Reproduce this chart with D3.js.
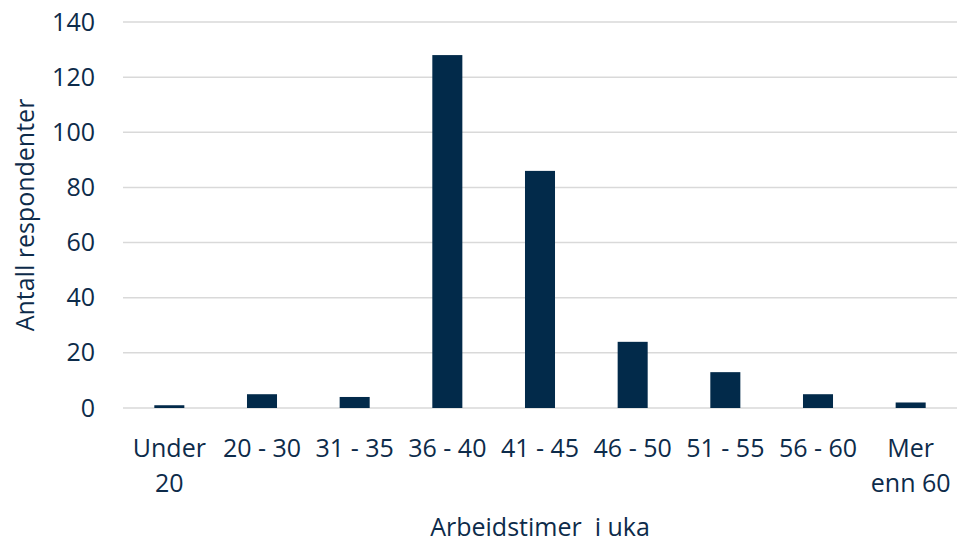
<!DOCTYPE html>
<html>
<head>
<meta charset="utf-8">
<script src="https://cdn.jsdelivr.net/npm/d3@7"></script>
<style>
  body { margin: 0; background: #fff; }
  text { font-family: "Open Sans", sans-serif; fill: #0d2b4a; }
</style>
</head>
<body>
<script>
// Data
var categories = ["Under\n20", "20 - 30", "31 - 35", "36 - 40", "41 - 45", "46 - 50", "51 - 55", "56 - 60", "Mer\nenn 60"];
var values = [1, 5, 4, 128, 86, 24, 13, 5, 2];
var yTicks = [0, 20, 40, 60, 80, 100, 120, 140];
var xTitle = "Arbeidstimer \u00a0i uka";
var yTitle = "Antall respondenter";

var W = 957, H = 542;
var margin = {left: 123, right: 0, top: 22, bottom: 134};
var width = W - margin.left - margin.right,
    height = H - margin.top - margin.bottom;
var fontSize = "25px";

var svg = d3.select("body").append("svg")
    .attr("width", W)
    .attr("height", H);

var g = svg.append("g")
    .attr("transform", "translate(" + margin.left + "," + margin.top + ")");

var x = d3.scaleBand()
    .domain(categories)
    .range([0, width])
    .paddingInner(0.676)
    .paddingOuter(0.338);

var y = d3.scaleLinear()
    .domain([0, 140])
    .range([height, 0]);

// gridlines
g.selectAll(".grid")
    .data(yTicks)
    .join("line")
    .attr("class", "grid")
    .attr("x1", 0)
    .attr("x2", width)
    .attr("y1", function(d) { return y(d); })
    .attr("y2", function(d) { return y(d); })
    .attr("stroke", "#d9d9d9")
    .attr("stroke-width", 1.5);

// bars
g.selectAll(".bar")
    .data(values)
    .join("rect")
    .attr("class", "bar")
    .attr("x", function(d, i) { return x(categories[i]); })
    .attr("y", function(d) { return y(d); })
    .attr("width", x.bandwidth())
    .attr("height", function(d) { return y(0) - y(d); })
    .attr("fill", "#022a4a");

// y axis
var yAxis = g.append("g")
    .call(d3.axisLeft(y).tickValues(yTicks).tickSize(0).tickPadding(28));
yAxis.select(".domain").remove();
yAxis.selectAll("text")
    .style("font-size", fontSize)
    .style("font-family", "Open Sans, sans-serif")
    .attr("fill", "#0d2b4a");

// x axis (labels with line breaks)
var xAxis = g.append("g")
    .attr("transform", "translate(0," + height + ")")
    .call(d3.axisBottom(x).tickSize(0).tickFormat(""));
xAxis.select(".domain").remove();
xAxis.selectAll(".tick").each(function(d) {
    var lines = d.split("\n");
    var t = d3.select(this).append("text")
        .attr("text-anchor", "middle")
        .style("font-size", fontSize);
    lines.forEach(function(l, i) {
        t.append("tspan")
            .attr("x", 0)
            .attr("y", 49 + i * 35)
            .text(l);
    });
});

// axis titles
svg.append("text")
    .attr("x", margin.left + width / 2)
    .attr("y", 536)
    .attr("text-anchor", "middle")
    .style("font-size", fontSize)
    .text(xTitle);

svg.append("text")
    .attr("transform", "translate(34," + (margin.top + height / 2) + ") rotate(-90)")
    .attr("text-anchor", "middle")
    .style("font-size", fontSize)
    .text(yTitle);
</script>
</body>
</html>
